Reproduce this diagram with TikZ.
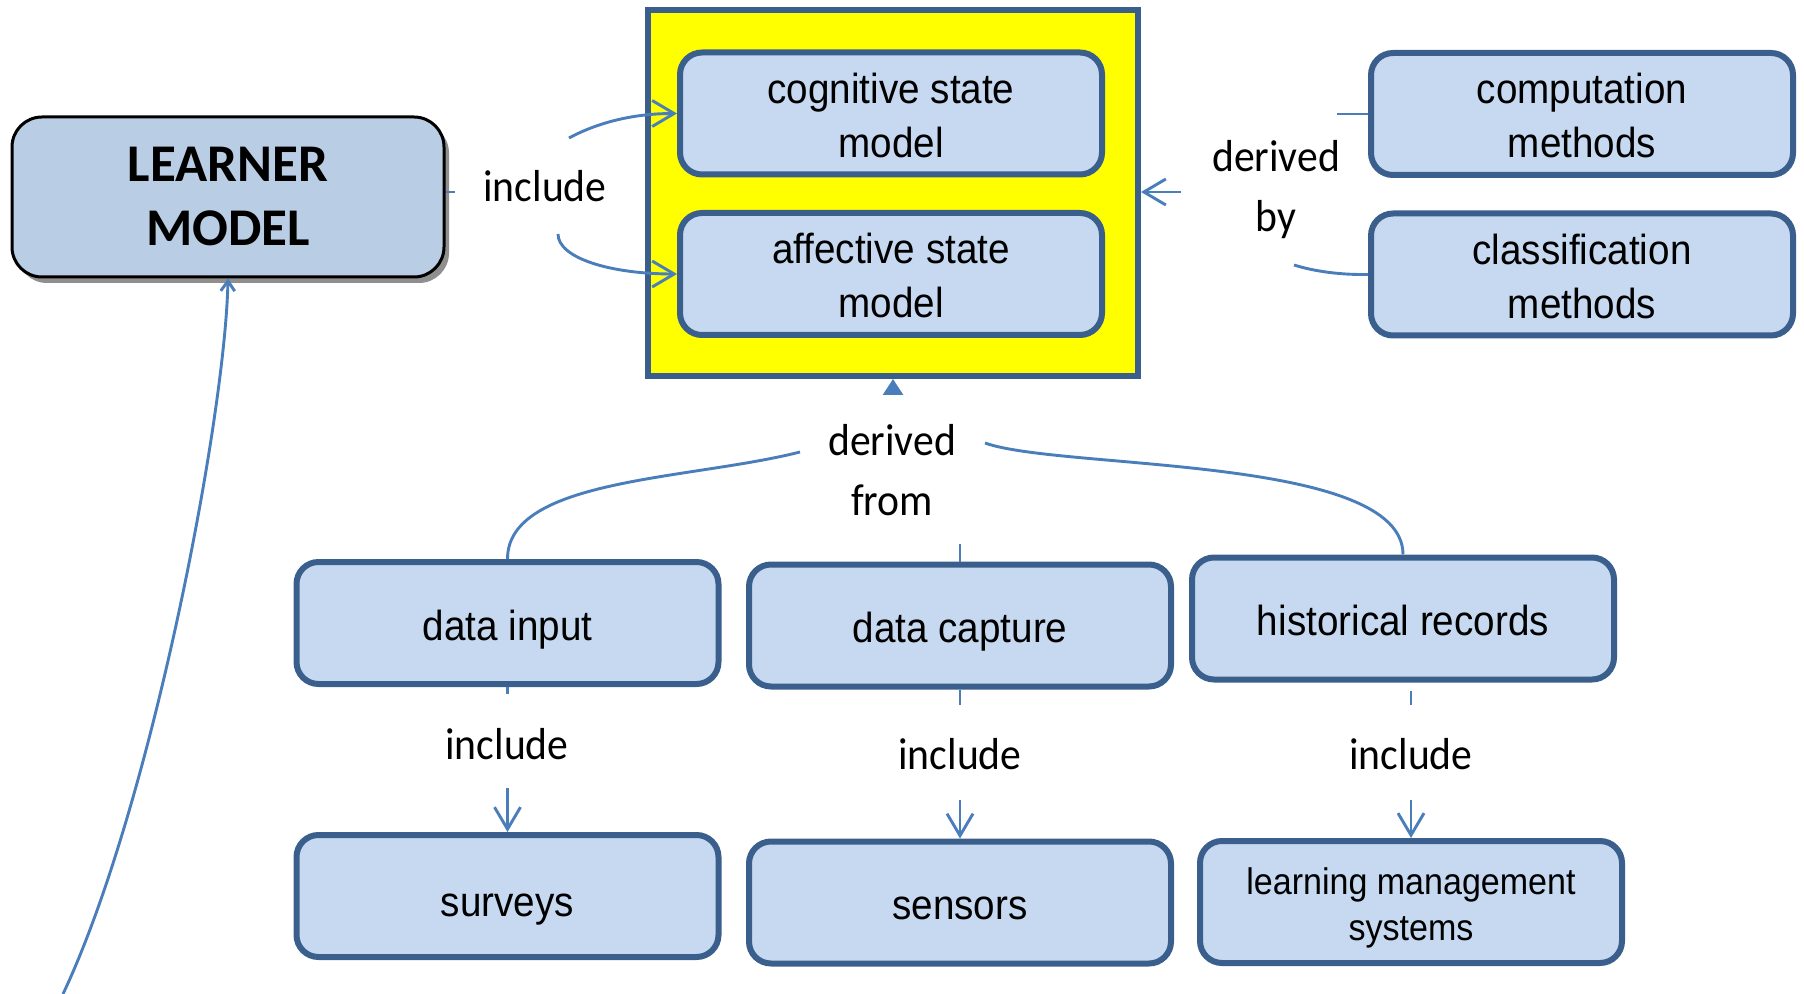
\documentclass[tikz,border=0pt]{standalone}
\usepackage{fontspec}
\setmainfont{Liberation Sans}
\newfontfamily\boxfont[FakeStretch=0.92]{Liberation Sans}
\newfontfamily\lblfont[FakeStretch=0.93]{Carlito}
\newfontfamily\lmfont{Carlito}
\usetikzlibrary{arrows.meta,shadows}
\definecolor{boxfill}{HTML}{C6D9F1}
\definecolor{boxline}{HTML}{3A5F8D}
\definecolor{lmfill}{HTML}{B9CDE5}
\definecolor{connc}{HTML}{4A7EBB}
\definecolor{yel}{HTML}{FFFF00}
\tikzset{
  cbox/.style={draw=boxline, line width=3pt, fill=boxfill, rounded corners=11pt,
    minimum width=211pt, minimum height=61pt, align=center, inner sep=0pt,
    font=\boxfont\fontsize{21}{27}\selectfont},
  onel/.style={text height=15.3pt+#1, text depth=4.4pt-#1},
  twol/.style={text height=42pt+#1, text depth=0pt-#1},
  lbl/.style={font=\lblfont\fontsize{22.4}{30}\selectfont, align=center, inner sep=0pt},
  conn/.style={draw=connc, line width=1.45pt},
  arr/.style={conn, -{Straight Barb[length=11pt,width=13pt]}},
}
\begin{document}
\begin{tikzpicture}[x=0.5pt,y=-0.5pt]
\useasboundingbox (0,0) rectangle (1804,994);
% learner model
\node[draw=black, line width=1.5pt, fill=lmfill, rounded corners=15pt,
  minimum width=216pt, minimum height=80pt, align=center,
  drop shadow={shadow xshift=2.5pt, shadow yshift=-3pt, fill=black!55, opacity=0.8},
  font=\lmfont\bfseries\fontsize{26.5}{32}\selectfont] (lm) at (228,197) {LEARNER\\MODEL};
% yellow container
\node[draw=boxline, line width=3pt, fill=yel, minimum width=245pt, minimum height=183pt, inner sep=0pt] (Y) at (893,193) {};
\node[cbox, twol=2.5pt] (cog) at (891,113.5) {cognitive state\\model};
\node[cbox, twol=2pt] (aff) at (891,274) {affective state\\model};
\node[cbox, twol=2pt] (comp) at (1582,114) {computation\\methods};
\node[cbox, twol=2pt] (cls) at (1582,274.5) {classification\\methods};
\node[cbox, onel=3.5pt] (di) at (507.5,623) {data input};
\node[cbox, onel=3pt] (dc) at (960,625.5) {data capture};
\node[cbox, onel=2.8pt] (hr) at (1403,618.5) {historical records};
\node[cbox, onel=5pt] (sv) at (507.5,896) {surveys};
\node[cbox, onel=3pt] (sn) at (960,902.5) {sensors};
\node[cbox, font=\boxfont\fontsize{18.5}{23}\selectfont, text height=39pt, text depth=1pt] (lms) at (1411,902) {learning management\\systems};
% labels
\node[lbl] (inc0) at (545,186) {include};
\node[lbl] (dby) at (1276,190) {derived\\by};
\node[lbl] (dfr) at (892,470) {derived\\from};
\node[lbl] (inc1) at (507,744) {include};
\node[lbl] (inc2) at (960,754) {include};
\node[lbl] (inc3) at (1411,754) {include};
% connectors: include (top)
\coordinate (c0) at (455,192);
\draw[conn] (lm.east |- c0) -- (c0);
\coordinate (c1) at (569,138);
\draw[arr] (c1) .. controls (595,124) and (630,113.5) .. (cog.west);
\coordinate (c2) at (558,234);
\draw[arr] (c2) .. controls (558,258) and (610,274) .. (aff.west);
% derived by
\coordinate (c3) at (1181,192);
\draw[arr] (c3) -- (Y.east |- c3);
\coordinate (c4) at (1337,114);
\draw[conn] (comp.west) -- (c4);
\coordinate (c5) at (1294,265);
\draw[conn] (cls.west) .. controls (1335,275) and (1310,270) .. (c5);
% derived from
\coordinate (c6) at (893,394);
\draw[conn, -{Triangle[length=8pt,width=10pt]}] (c6) -- (Y.south);
\coordinate (c7) at (800,452);
\draw[conn] (c7) .. controls (690,480) and (507.5,478) .. (di.north);
\coordinate (c8) at (985,443);
\draw[conn] (c8) .. controls (1060,470) and (1403,455) .. (hr.north);
\coordinate (c9) at (960,544);
\draw[conn] (dc.north) -- (c9);
% include (bottom)
\coordinate (d1) at (507.5,694);
\draw[conn] (di.south) -- (d1);
\coordinate (e1) at (507.5,788);
\draw[arr] (e1) -- (sv.north);
\coordinate (d2) at (960,705);
\draw[conn] (dc.south) -- (d2);
\coordinate (e2) at (960,800);
\draw[arr] (e2) -- (sn.north);
\coordinate (d3) at (1411,705);
\draw[conn, shorten <=4pt] (hr.south -| d3) -- (d3);
\coordinate (e3) at (1411,800);
\draw[arr] (e3) -- (lms.north);
% long curve into learner model
\coordinate (c10) at (63,994);
\draw[conn, -{Straight Barb[length=5pt,width=7pt]}] (c10) .. controls (150,810) and (225,420) .. (lm.south);
\end{tikzpicture}
\end{document}
